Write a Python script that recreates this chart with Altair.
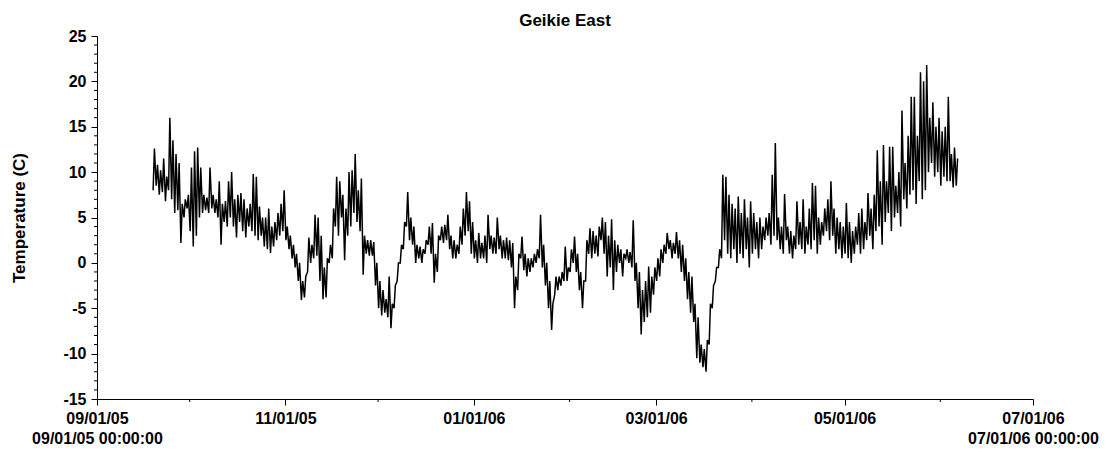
import altair as alt
import pandas as pd

title_text = "Geikie East"
y_title = "Temperature (C)"
start_date = "2005-09-19"

# daily low / high temperatures, one pair per day from 2005-09-19
daily_low = [
    8.0, 8.5, 7.5, 7.8, 6.8, 8.0, 7.0, 5.5, 5.8, 2.2,
    5.0, 6.0, 3.5, 1.8, 3.0, 5.0, 5.5, 5.8, 5.5, 6.0,
    5.5, 5.0, 2.0, 4.5, 4.0, 5.0, 4.0, 2.8, 4.5, 3.5,
    2.8, 4.0, 3.5, 3.0, 2.5, 3.0, 1.8, 1.5, 1.1, 1.8,
    2.5, 3.0, 3.5, 2.5, 1.5, 0.5, -0.5, -2.0, -4.1, -3.8,
    -1.0, 0.0, 0.5, 0.8, -2.0, -4.0, -3.8, 0.0, 0.5, 4.0,
    3.0, 5.0, 0.3, 3.0, 4.0, 5.5, 4.5, 3.5, -1.3, 1.0,
    0.8, 0.8, -2.5, -5.0, -5.8, -5.5, -6.0, -7.2, -5.0, -2.0,
    0.0, 1.5, 4.0, 2.5, 2.0, 0.0, 0.5, 0.0, 1.0, 2.0,
    1.0, -2.2, -1.0, 2.5, 2.2, 2.5, 1.5, 0.5, 0.5, 1.0,
    2.0, 3.0, 3.5, 1.0, 0.5, 0.0, 0.5, 0.5, 0.0, 1.5,
    1.0, 1.0, 1.5, 0.5, 0.5, 0.3, -0.5, -5.0, -3.0, 0.5,
    -0.8, -1.5, -1.0, -0.5, 0.0, 0.5, -0.5, -2.5, -5.0, -7.4,
    -3.5, -3.0, -2.5, -2.0, -2.0, -1.0, 0.0, -1.0, -3.0, -5.0,
    -2.0, 1.0, 0.5, 1.0, 0.7, 2.5, 1.0, -1.5, -0.5, -3.0,
    -1.0, 0.0, -1.5, 0.5, 0.0, -0.5, -2.0, -5.0, -7.9, -6.5,
    -6.0, -5.5, -3.5, -2.0, -1.5, 0.0, 1.0, 1.5, 0.5, 1.0,
    0.5, -1.0, -2.0, -4.0, -5.5, -6.5, -10.5, -11.0, -11.5, -12.0,
    -9.0, -5.0, -2.0, -0.5, 0.5, 2.5, 1.0, 0.5, 1.5, 0.0,
    1.0, 0.5, 1.5, -0.5, 1.0, 1.5, 0.5, 1.5, 2.5, 3.0,
    2.0, 3.0, 2.5, 1.5, 1.0, 2.5, 1.0, 0.5, 1.5, 2.0,
    1.5, 1.0, 2.0, 1.5, 2.5, 1.0, 2.0, 3.0, 3.5, 2.5,
    3.0, 1.0, 1.5, 0.5, 1.0, 0.5, 0.0, 1.0, 2.0, 1.0,
    1.5, 2.5, 3.0, 1.5, 3.5, 4.0, 2.0, 4.5, 5.5, 3.5,
    5.0, 5.5, 4.0, 7.0, 6.0, 7.5, 8.0, 6.5, 9.0, 7.0,
    8.0, 10.0, 11.0, 9.5, 10.0, 8.5, 9.5, 9.0, 9.0, 8.3, 8.5,
]
daily_high = [
    12.6, 10.8, 10.2, 11.5, 9.5, 16.0, 13.5, 12.0, 11.0, 6.5,
    7.0, 7.5, 10.5, 12.3, 12.7, 10.5, 7.5, 7.2, 10.5, 7.5,
    7.0, 9.0, 6.5, 6.8, 9.0, 10.0, 7.0, 7.5, 7.7, 7.0,
    6.0, 6.5, 9.8, 9.5, 6.2, 5.0, 5.0, 6.0, 4.0, 4.5,
    5.5, 6.5, 8.0, 4.0, 3.0, 2.0, 1.0, 0.0, -2.0, -1.5,
    2.8, 2.0, 5.3, 5.0, 3.0, -0.5, 0.5, 2.0, 6.0, 9.5,
    9.0, 7.5, 6.0, 10.0, 10.2, 12.0, 8.0, 9.3, 3.0, 2.5,
    2.5, 2.3, 0.0, -2.0, -3.0, -4.0, -1.5, -4.5, -2.5, 0.0,
    2.0, 4.5, 7.8, 5.0, 4.0, 2.0, 1.8, 1.5, 2.5, 4.0,
    4.4, 1.0, 3.0, 4.0, 4.2, 5.3, 3.0, 2.5, 2.0, 4.0,
    6.0, 7.8, 6.8, 4.5, 2.5, 3.3, 2.2, 3.0, 5.3, 3.0,
    2.8, 5.0, 3.0, 2.5, 2.8, 2.5, 2.2, -1.5, 1.0, 2.9,
    1.0, 0.5, 0.5, 1.0, 1.5, 5.3, 2.0, 0.0, -2.0, -4.5,
    -1.5, -1.5, -1.0, 1.8, -0.5, 1.5, 2.9, 1.0, -1.0, -2.0,
    2.5, 3.8, 3.5, 3.0, 4.0, 5.0, 4.5, 3.0, 4.8, 2.5,
    2.0, 1.5, 1.0, 1.5, 1.2, 4.7, 0.0, -1.0, -3.0, -2.0,
    -0.4, -1.5, -0.5, 0.5, 1.5, 2.0, 3.3, 2.5, 2.2, 3.4,
    2.5, 2.0, 0.5, -1.0, -1.5, -4.5, -6.0, -9.0, -9.5, -8.5,
    -4.5, -2.5, -0.5, 1.5, 9.7, 9.5, 7.5, 6.5, 6.0, 7.3,
    5.5, 7.0, 5.0, 6.8, 5.5, 4.5, 5.0, 4.0, 5.0, 5.5,
    9.7, 13.2, 5.0, 4.0, 7.6, 4.0, 3.5, 3.0, 6.8, 4.5,
    7.0, 4.0, 6.0, 8.8, 8.5, 5.0, 4.5, 6.0, 7.0, 9.0,
    6.0, 5.0, 4.5, 4.0, 6.6, 4.5, 3.5, 4.0, 5.5, 6.0,
    4.5, 7.7, 6.0, 7.5, 12.4, 9.0, 13.0, 9.0, 12.8, 12.8,
    8.5, 10.0, 16.8, 11.0, 14.0, 18.3, 18.3, 14.0, 21.0, 20.0,
    21.8, 16.0, 17.7, 15.0, 16.0, 14.5, 15.0, 18.3, 12.0, 12.7, 11.5,
]

y_major = [-15, -10, -5, 0, 5, 10, 15, 20, 25]
y_minor = [-14, -13, -12, -11, -9, -8, -7, -6, -4, -3, -2, -1,
           1, 2, 3, 4, 6, 7, 8, 9, 11, 12, 13, 14, 16, 17, 18, 19,
           21, 22, 23, 24]
x_major = ["2005-09-01", "2005-11-01", "2006-01-01", "2006-03-01",
           "2006-05-01", "2006-07-01"]
x_minor = ["2005-10-01", "2005-12-01", "2006-02-01", "2006-04-01",
           "2006-06-01"]

# ---- build tables ----
base = pd.Timestamp(start_date)
rows = []
for i, (lo, hi) in enumerate(zip(daily_low, daily_high)):
    d = base + pd.Timedelta(days=i)
    rows.append({"t": (d + pd.Timedelta(hours=4)).strftime("%Y-%m-%dT%H:%M:%S"), "v": lo})
    rows.append({"t": (d + pd.Timedelta(hours=14)).strftime("%Y-%m-%dT%H:%M:%S"), "v": hi})
df = pd.DataFrame(rows)
df_ym = pd.DataFrame({"v": y_minor})
df_xm = pd.DataFrame({"t": [s + "T00:00:00" for s in x_minor]})


def dt(s):
    y, m, d = s.split("-")
    return alt.DateTime(year=int(y), month=int(m), date=int(d))


FONT = "Liberation Sans"
W, H = 936, 363

x_scale = alt.Scale(domain=[dt(x_major[0]), dt(x_major[-1])])
y_scale = alt.Scale(domain=[y_major[0], y_major[-1]], nice=False, zero=False)

label_expr = ("(month(datum.value) == 8 && year(datum.value) == 2005) || "
              "(month(datum.value) == 6 && year(datum.value) == 2006) ? "
              "[timeFormat(datum.value, '%m/%d/%y'), timeFormat(datum.value, '%m/%d/%y %H:%M:%S')] : "
              "timeFormat(datum.value, '%m/%d/%y')")

x_axis = alt.Axis(values=[dt(s) for s in x_major], labelExpr=label_expr,
                  title=None, tickSize=6, labelPadding=5, labelLineHeight=20,
                  labelFlush=False, labelOverlap=False, grid=False)
y_axis = alt.Axis(values=y_major, labelExpr="datum.value + ''", title=y_title,
                  tickSize=6, labelPadding=5, titlePadding=34, grid=False)

line = alt.Chart(df).mark_line(color="black", strokeWidth=1.5).encode(
    x=alt.X("t:T", scale=x_scale, axis=x_axis),
    y=alt.Y("v:Q", scale=y_scale, axis=y_axis),
)

ym = alt.Chart(df_ym).mark_rule(color="black", strokeWidth=1).encode(
    y=alt.Y("v:Q", scale=y_scale, axis=y_axis),
    x=alt.value(-3), x2=alt.value(0),
)

xm = alt.Chart(df_xm).mark_rule(color="black", strokeWidth=1).encode(
    x=alt.X("t:T", scale=x_scale, axis=x_axis),
    y=alt.value(H), y2=alt.value(H + 3),
)

chart = alt.layer(line, ym, xm).properties(
    width=W, height=H,
    title=alt.TitleParams(title_text, font=FONT, fontSize=17, fontWeight="bold",
                          color="black", offset=-2, anchor="middle"),
    padding={"left": 2, "top": 4, "right": 2, "bottom": 0},
).configure_view(stroke=None).configure_axis(
    domainColor="black", tickColor="black", labelColor="black",
    labelFont=FONT, labelFontSize=16, labelFontWeight="bold",
    titleFont=FONT, titleFontSize=17, titleFontWeight="bold", titleColor="black",
)

chart.save("out.html", embed_options={"renderer": "svg", "actions": False})
